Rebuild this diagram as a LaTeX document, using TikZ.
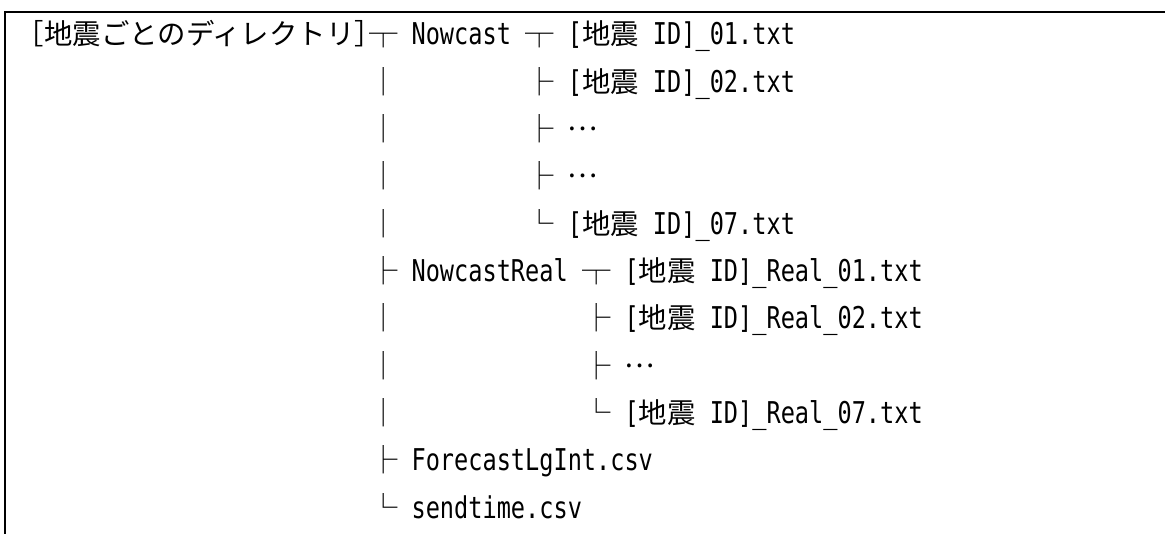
\documentclass[tikz,border=0pt]{standalone}
\usepackage{fontspec}
\newfontfamily\jpfont{Noto Sans CJK JP}
\newfontfamily\latfont{DejaVu Sans Mono}[FakeStretch=0.786]
\newcommand\jz[1]{{\jpfont\fontsize{28.4}{28.4}\selectfont #1}}
\newcommand\us{\char95\relax}
\tikzset{
  every node/.style={inner sep=0pt, outer sep=0pt},
  lbl/.style={anchor=base west, font=\latfont\fontsize{30}{30}\selectfont},
  jpn/.style={anchor=base west, font=\jpfont\fontsize{28.4}{28.4}\selectfont},
  dots/.style={anchor=base west, font=\jpfont\fontsize{28.4}{28.4}\selectfont, yshift=9pt},
  treeglyph/.style={anchor=base, font=\jpfont\fontsize{28.4}{28.4}\selectfont},
  frame/.style={line width=2pt, line cap=rect}
}
\begin{document}
\begin{tikzpicture}[x=1pt,y=-1pt]
\useasboundingbox (0,0) rectangle (1165,534);
\draw[frame] (4.8,540) -- (4.8,12) -- (1170,12);
% row 1
\node[jpn] (root) at (16,45) {［地震ごとのディレクトリ］};
\node[treeglyph] (t1) at (383.2,45) {┬};
\node[lbl] (nc) at (411.6,45) {Nowcast};
\node[treeglyph] (t2) at (539.4,45) {┬};
\node[lbl] (n1) at (567.8,45) {[\jz{地震} ID]\us 01.txt};
% row 2
\node[treeglyph] (v2) at (383.2,92.3) {│};
\node[treeglyph] (b2) at (539.4,92.3) {├};
\node[lbl] (n2) at (567.8,92.3) {[\jz{地震} ID]\us 02.txt};
% row 3
\node[treeglyph] (v3) at (383.2,139.6) {│};
\node[treeglyph] (b3) at (539.4,139.6) {├};
\node[dots] (n3) at (567.8,139.6) {…};
% row 4
\node[treeglyph] (v4) at (383.2,186.9) {│};
\node[treeglyph] (b4) at (539.4,186.9) {├};
\node[dots] (n4) at (567.8,186.9) {…};
% row 5
\node[treeglyph] (v5) at (383.2,234.2) {│};
\node[treeglyph] (b5) at (539.4,234.2) {└};
\node[lbl] (n7) at (567.8,234.2) {[\jz{地震} ID]\us 07.txt};
% row 6
\node[treeglyph] (b6) at (383.2,281.5) {├};
\node[lbl] (ncr) at (411.6,281.5) {NowcastReal};
\node[treeglyph] (t3) at (596.2,281.5) {┬};
\node[lbl] (r1) at (624.6,281.5) {[\jz{地震} ID]\us Real\us 01.txt};
% row 7
\node[treeglyph] (v7) at (383.2,328.8) {│};
\node[treeglyph] (b7) at (596.2,328.8) {├};
\node[lbl] (r2) at (624.6,328.8) {[\jz{地震} ID]\us Real\us 02.txt};
% row 8
\node[treeglyph] (v8) at (383.2,376.1) {│};
\node[treeglyph] (b8) at (596.2,376.1) {├};
\node[dots] (r3) at (624.6,376.1) {…};
% row 9
\node[treeglyph] (v9) at (383.2,423.4) {│};
\node[treeglyph] (b9) at (596.2,423.4) {└};
\node[lbl] (r7) at (624.6,423.4) {[\jz{地震} ID]\us Real\us 07.txt};
% row 10
\node[treeglyph] (b10) at (383.2,470.7) {├};
\node[lbl] (fc) at (411.6,470.7) {ForecastLgInt.csv};
% row 11
\node[treeglyph] (b11) at (383.2,518) {└};
\node[lbl] (st) at (411.6,518) {sendtime.csv};
\end{tikzpicture}
\end{document}
